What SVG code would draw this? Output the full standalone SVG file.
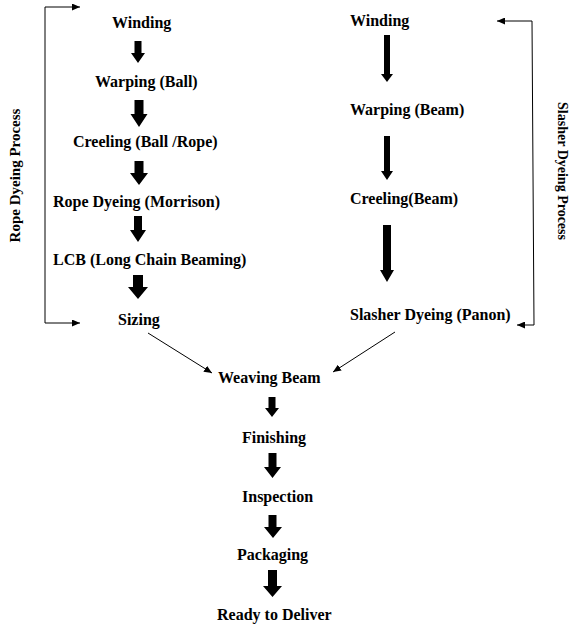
<svg xmlns="http://www.w3.org/2000/svg" width="572" height="625" viewBox="0 0 572 625">
<defs>
<style>
.t{font-family:"Liberation Serif","Times New Roman",Tinos,"DejaVu Serif",serif;font-weight:bold;font-size:16px;fill:#000}
.s{font-family:"Liberation Serif","Times New Roman",Tinos,"DejaVu Serif",serif;font-weight:bold;fill:#000}
.ln{fill:none;stroke:#000;stroke-width:1}
.blk{fill:#000}
</style>
<marker id="ah" viewBox="0 0 10 10" refX="10" refY="5" markerWidth="8" markerHeight="7" markerUnits="userSpaceOnUse" orient="auto" preserveAspectRatio="none">
<path d="M0,0 L10,5 L0,10 Z" fill="#000"/>
</marker>
</defs>
<rect width="572" height="625" fill="#fff"/>

<g id="rope-label"><text class="s" font-size="15" text-anchor="middle" transform="translate(20,175.5) rotate(-90)">Rope Dyeing Process</text></g>
<g id="slasher-label"><text class="s" font-size="14" text-anchor="middle" transform="translate(558,171) rotate(90)">Slasher Dyeing Process</text></g>

<g id="n-winding-l"><text class="t" x="112" y="28">Winding</text></g>
<g id="n-warping-ball"><text class="t" x="95" y="87">Warping (Ball)</text></g>
<g id="n-creeling-ball"><text class="t" x="73" y="147">Creeling (Ball /Rope)</text></g>
<g id="n-rope-dyeing"><text class="t" x="53" y="207">Rope Dyeing (Morrison)</text></g>
<g id="n-lcb"><text class="t" x="53" y="265">LCB (Long Chain Beaming)</text></g>
<g id="n-sizing"><text class="t" x="118" y="325">Sizing</text></g>

<g id="n-winding-r"><text class="t" x="350" y="26">Winding</text></g>
<g id="n-warping-beam"><text class="t" x="350" y="115">Warping (Beam)</text></g>
<g id="n-creeling-beam"><text class="t" x="350" y="204">Creeling(Beam)</text></g>
<g id="n-slasher"><text class="t" x="350" y="320">Slasher Dyeing (Panon)</text></g>

<g id="n-weaving-beam"><text class="t" x="218" y="383">Weaving Beam</text></g>
<g id="n-finishing"><text class="t" x="242" y="443">Finishing</text></g>
<g id="n-inspection"><text class="t" x="242" y="502">Inspection</text></g>
<g id="n-packaging"><text class="t" x="237" y="560">Packaging</text></g>
<g id="n-ready"><text class="t" x="217" y="620">Ready to Deliver</text></g>

<g id="connectors">
<path class="blk" d="M134.5,41 H141.5 V53 H145 L138,63 L131,53 H134.5 Z"/>
<path class="blk" d="M134.5,100 H143.5 V114 H147.5 L139,127 L130.5,114 H134.5 Z"/>
<path class="blk" d="M134.5,161 H143.5 V173 H148 L139,185 L130,173 H134.5 Z"/>
<path class="blk" d="M134,216 H142 V230 H146 L138,242 L130,230 H134 Z"/>
<path class="blk" d="M133,275 H143 V287 H148 L138,299 L128,287 H133 Z"/>
<path class="blk" d="M384,35 H390 V74 H393 L387,82 L381,74 H384 Z"/>
<path class="blk" d="M384,136 H390 V171 H393 L387,180 L381,171 H384 Z"/>
<path class="blk" d="M383,225 H391 V270 H394 L387,282 L380,270 H383 Z"/>
<path class="blk" d="M268.5,397 H275.5 V408 H279 L272,417 L265,408 H268.5 Z"/>
<path class="blk" d="M268.5,453 H276.5 V467 H281 L272.5,478 L264,467 H268.5 Z"/>
<path class="blk" d="M268.5,515 H276.5 V527 H282 L273,538 L264,527 H268.5 Z"/>
<path class="blk" d="M268,570 H277 V586 H282 L272.5,597 L263,586 H268 Z"/>
<line class="ln" x1="148" y1="333" x2="212" y2="373" marker-end="url(#ah)"/>
<line class="ln" x1="395" y1="332" x2="333" y2="372" marker-end="url(#ah)"/>
<polyline class="ln" points="45,7 45,323 80,323" marker-end="url(#ah)"/>
<line class="ln" x1="45" y1="7" x2="80" y2="7" marker-end="url(#ah)"/>
<polyline class="ln" points="532,21 534,325 517,325" marker-end="url(#ah)"/>
<line class="ln" x1="532" y1="21" x2="497" y2="21" marker-end="url(#ah)"/>
</g>
</svg>
